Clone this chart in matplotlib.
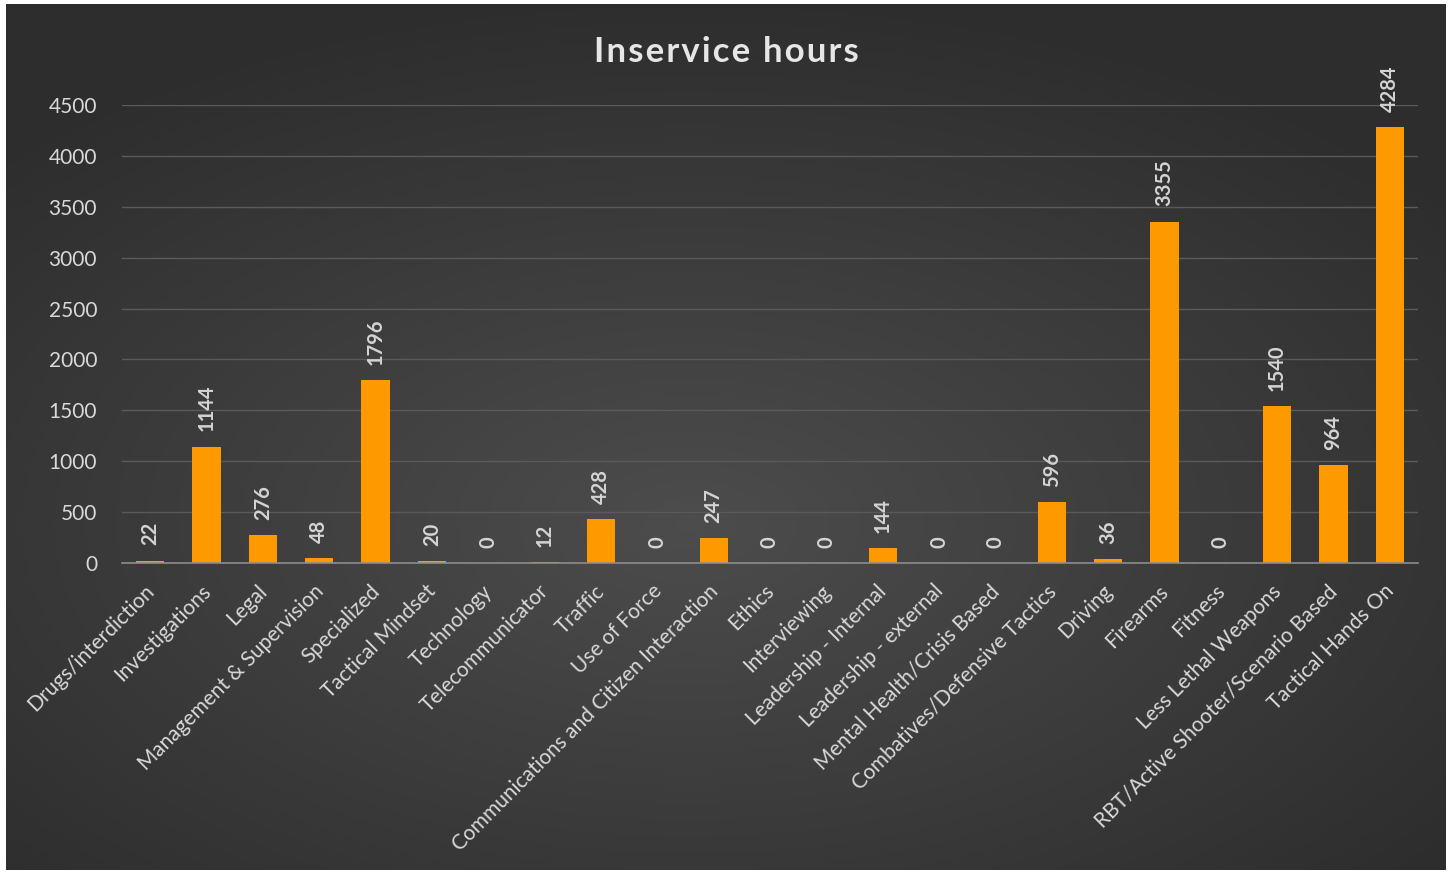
import numpy as np
import matplotlib.pyplot as plt
from matplotlib.transforms import ScaledTranslation

categories = [
    "Drugs/interdiction", "Investigations", "Legal", "Management & Supervision",
    "Specialized", "Tactical Mindset", "Technology", "Telecommunicator", "Traffic",
    "Use of Force", "Communications and Citizen Interaction", "Ethics",
    "Interviewing", "Leadership - Internal", "Leadership - external",
    "Mental Health/Crisis Based", "Combatives/Defensive Tactics", "Driving",
    "Firearms", "Fitness", "Less Lethal Weapons", "RBT/Active Shooter/Scenario Based",
    "Tactical Hands On",
]
hours = [22, 1144, 276, 48, 1796, 20, 0, 12, 428, 0, 247, 0, 0, 144, 0, 0,
         596, 36, 3355, 0, 1540, 964, 4284]
yticks = [0, 500, 1000, 1500, 2000, 2500, 3000, 3500, 4000, 4500]

plt.rcParams["font.family"] = ["Lato", "DejaVu Sans"]
W, H = 1452, 873
fig = plt.figure(figsize=(W / 100, H / 100), dpi=100, facecolor="white")

# dark radial gradient background inside a thin white border
bg = fig.add_axes([6 / W, 3 / H, 1440 / W, 866 / H])
gx, gy = np.meshgrid(np.linspace(-1, 1, 600), np.linspace(-1, 1, 400))
r = np.sqrt(((gx + 0.05) / 1.1) ** 2 + ((gy - 0.2) / 1.0) ** 2)
r = np.clip(r / 1.2, 0, 1)
shade = 0.30 - 0.12 * r
bg.imshow(np.dstack([shade, shade, shade]), aspect="auto", extent=[0, 1, 0, 1])
bg.axis("off")

ax = fig.add_axes([122 / W, 1 - 563 / H, 1296 / W, 458 / H])
ax.patch.set_alpha(0)
x = np.arange(len(categories))
ax.bar(x, hours, width=0.5, color="#ff9900", zorder=3)
for xi, v in zip(x, hours):
    ax.annotate(str(v), (xi, v), xytext=(0, 11), textcoords="offset points",
                rotation=90, ha="center", va="bottom", color="#d4d4d4",
                fontsize=14.5, fontweight="bold")

ax.set_xlim(-0.5, len(categories) - 0.5)
ax.set_ylim(0, 4500)
ax.set_yticks(yticks)
ax.grid(axis="y", color="#5a5a5a", linewidth=1, zorder=0)
for s in ["top", "right", "left"]:
    ax.spines[s].set_visible(False)
ax.spines["bottom"].set_color("#8c8c8c")
ax.spines["bottom"].set_linewidth(1.2)
ax.spines["bottom"].set_zorder(4)
ax.tick_params(axis="both", length=0, colors="#d9d9d9", labelsize=15)
ax.tick_params(axis="y", pad=18)
ax.tick_params(axis="x", pad=13)
ax.set_xticks(x)
ax.set_xticklabels(categories, rotation=45, ha="right", rotation_mode="anchor")
for lbl in ax.get_xticklabels():
    lbl.set_transform(lbl.get_transform() + ScaledTranslation(-6 / 100, 0, fig.dpi_scale_trans))

# letter-spaced title
fig.text(0.5, 1 - 52 / H, "\u200a".join("Inservice hours"), ha="center", va="center",
         color="#e6e6e6", fontsize=25, fontweight="bold")

fig.savefig("out.png", dpi=100, facecolor="white")
